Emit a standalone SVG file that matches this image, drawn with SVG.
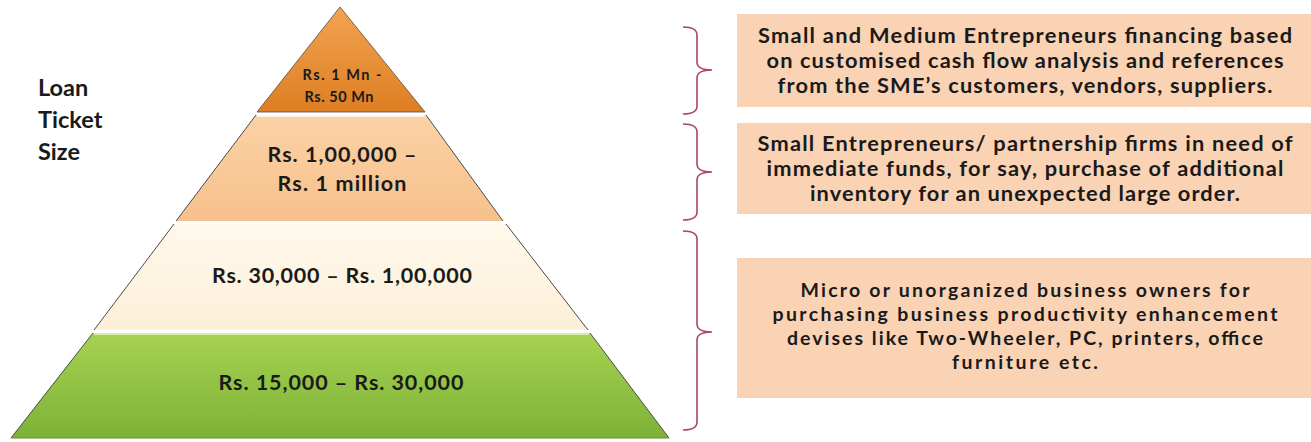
<svg xmlns="http://www.w3.org/2000/svg" width="1311" height="442" viewBox="0 0 1311 442">
<style>
.t{font-family:Lato,"Open Sans","Liberation Sans",sans-serif;font-weight:700;fill:#1a1a1a;text-anchor:middle}
.lbl{font-family:Lato,"Open Sans","Liberation Sans",sans-serif;font-weight:700;fill:#1a1a1a;font-size:23.5px}
.bx{font-size:21.8px}
.bx3{font-size:19.5px}
.box{fill:#FAD3B4}
.br{fill:none;stroke:#A8485A;stroke-width:1.6}
.hl{stroke:#FFFFFF;stroke-width:2;opacity:0.8}
.edge{fill:none;stroke:#4a4a4a;stroke-width:1}
</style>
<defs>
<linearGradient id="gTop" x1="0" y1="0" x2="0" y2="1">
<stop offset="0" stop-color="#F2A452"/><stop offset="1" stop-color="#DD7E22"/>
</linearGradient>
<linearGradient id="gPeach" x1="0" y1="0" x2="0" y2="1">
<stop offset="0" stop-color="#FBD2A6"/><stop offset="1" stop-color="#F7C08C"/>
</linearGradient>
<linearGradient id="gCream" x1="0" y1="0" x2="0" y2="1">
<stop offset="0" stop-color="#FFF9EC"/><stop offset="1" stop-color="#FCEFD8"/>
</linearGradient>
<linearGradient id="gGreen" x1="0" y1="0" x2="0" y2="1">
<stop offset="0" stop-color="#A6D252"/><stop offset="1" stop-color="#7DB236"/>
</linearGradient>
</defs>

<g id="label-loan">
<text class="lbl" x="38" y="96">Loan</text>
<text class="lbl" x="38" y="128">Ticket</text>
<text class="lbl" x="38" y="160">Size</text>
</g>

<g id="tier-top">
<polygon points="340,7 257,112 425,112" fill="url(#gTop)" stroke="#5a4a3a" stroke-width="0.8"/>
<text class="t" x="342" y="80" font-size="14.5" textLength="79">Rs. 1 Mn -</text>
<text class="t" x="339" y="102" font-size="14.5" textLength="69">Rs. 50 Mn</text>
</g>

<g id="tier-2">
<polygon points="256,115 426,115 503,221 176,221" fill="url(#gPeach)"/>
<line class="hl" x1="257" y1="116" x2="425" y2="116"/>
<line class="edge" x1="256" y1="115" x2="176" y2="221"/>
<line class="edge" x1="426" y1="115" x2="503" y2="221"/>
<text class="t" x="342" y="162" font-size="21.5" textLength="149">Rs. 1,00,000 –</text>
<text class="t" x="342" y="191" font-size="21.5" textLength="129">Rs. 1 million</text>
</g>

<g id="tier-3">
<polygon points="174,224 506,224 588,330 94,330" fill="url(#gCream)"/>
<line class="edge" x1="174" y1="224" x2="94" y2="330"/>
<line class="edge" x1="506" y1="224" x2="588" y2="330"/>
<text class="t" x="342" y="283" font-size="21.5" textLength="260">Rs. 30,000 – Rs. 1,00,000</text>
</g>

<g id="tier-4">
<polygon points="93,333 590,333 669,438 11,438" fill="url(#gGreen)"/>
<line x1="94" y1="334" x2="589" y2="334" stroke="#D8EBA8" stroke-width="2"/>
<line class="edge" x1="93" y1="333" x2="11" y2="438"/>
<line class="edge" x1="590" y1="333" x2="669" y2="438"/>
<line x1="11" y1="438" x2="669" y2="438" stroke="#6a8a30" stroke-width="1"/>
<text class="t" x="341" y="390" font-size="21.5" textLength="245">Rs. 15,000 – Rs. 30,000</text>
</g>

<g id="connectors">
<path class="br" d="M683,27 Q697,27 697,35 L697,62 Q697,70 712,70 Q697,70 697,78 L697,106 Q697,114 683,114"/>
<path class="br" d="M683,124 Q697,124 697,132 L697,164 Q697,172 712,172 Q697,172 697,180 L697,212 Q697,220 683,220"/>
<path class="br" d="M683,231 Q697,231 697,239 L697,324 Q697,332 712,332 Q697,332 697,340 L697,422 Q697,430 683,430"/>
</g>

<g id="box-1">
<rect class="box" x="737" y="14" width="574" height="93"/>
<text class="t bx" x="1025" y="43" textLength="534">Small and Medium Entrepreneurs financing based</text>
<text class="t bx" x="1025" y="68" textLength="517">on customised cash flow analysis and references</text>
<text class="t bx" x="1025" y="93" textLength="495">from the SME’s customers, vendors, suppliers.</text>
</g>

<g id="box-2">
<rect class="box" x="737" y="123" width="574" height="91"/>
<text class="t bx" x="1025" y="151" textLength="535">Small Entrepreneurs/ partnership firms in need of</text>
<text class="t bx" x="1025" y="176" textLength="517">immediate funds, for say, purchase of additional</text>
<text class="t bx" x="1025" y="201" textLength="430">inventory for an unexpected large order.</text>
</g>

<g id="box-3">
<rect class="box" x="737" y="258" width="574" height="140"/>
<text class="t bx3" x="1025" y="297" textLength="449">Micro or unorganized business owners for</text>
<text class="t bx3" x="1025" y="321" textLength="505">purchasing business productivity enhancement</text>
<text class="t bx3" x="1025" y="345" textLength="476">devises like Two-Wheeler, PC, printers, office</text>
<text class="t bx3" x="1025" y="369" textLength="146">furniture etc.</text>
</g>
</svg>
